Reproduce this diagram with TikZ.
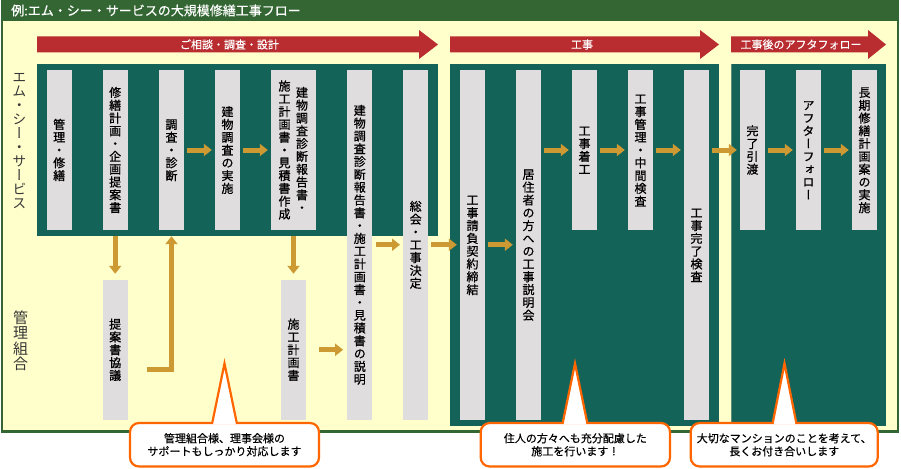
\documentclass[tikz,border=0pt]{standalone}
\usepackage{fontspec}
\usetikzlibrary{arrows.meta}
\newfontfamily\jp[FakeBold=0.4]{Noto Sans CJK JP}
\newfontfamily\jpv[RawFeature=+vert]{Noto Sans CJK JP}
\newfontfamily\jpvb[RawFeature=+vert,FakeBold=0.8]{Noto Sans CJK JP}
\definecolor{titlegreen}{RGB}{51,102,51}
\definecolor{cream}{RGB}{255,255,204}
\definecolor{tealc}{RGB}{19,99,89}
\definecolor{tealline}{RGB}{95,140,120}
\definecolor{boxgray}{RGB}{224,221,222}
\definecolor{goldc}{RGB}{204,153,51}
\definecolor{redc}{RGB}{185,45,48}
\definecolor{orangec}{RGB}{255,102,0}
\definecolor{labelgray}{RGB}{55,55,55}
\ExplSyntaxOn
\NewDocumentCommand \vt { O{0.8pt} m }
  {
    \vbox:n
      {
        \offinterlineskip
        \tl_map_inline:nn {#2}
          {
            \hbox_to_wd:nn {1em} { \hss \vrule height 0.88em depth 0.12em width 0pt ##1 \hss }
            \kern #1
          }
        \unkern
      }
  }
\ExplSyntaxOff
\begin{document}
\begin{tikzpicture}[x=1pt,y=-1pt,
  panel/.style={fill=tealc, inner sep=0pt, draw=none},
  gbox/.style={fill=boxgray, inner sep=0pt, minimum width=25pt, text=black,
    font=\jpvb\fontsize{12}{12}\selectfont},
  shortbox/.style={gbox, minimum height=160pt},
  tallbox/.style={gbox, minimum height=349.5pt},
  lowbox/.style={gbox, minimum height=139.5pt},
  garrow/.style={draw=goldc, line width=5pt, -{Triangle[length=8pt,width=12pt]},
    shorten <=3pt, shorten >=3pt},
  redarrow/.style={fill=redc},
  redlabel/.style={text=white, font=\jp\fontsize{11}{11}\selectfont, inner sep=0pt},
  sidelabel/.style={text=labelgray, inner sep=0pt},
  callout/.style={draw=orangec, line width=2.2pt, fill=white, rounded corners=9pt,
    minimum height=43.5pt, inner sep=0pt, align=center, text=black,
    font=\jp\fontsize{11}{13}\selectfont},
  pointer/.style={draw=orangec, line width=2.2pt, line join=miter}
]
\useasboundingbox (0,0) rectangle (901,468);
% frame
\fill[titlegreen] (0.8,0) rectangle (899,432.8);
\fill[cream] (2.8,21) rectangle (896.8,430.2);
\node[anchor=west, text=white, inner sep=0pt, font=\jp\fontsize{13}{13}\selectfont] (title) at (11,10.5)
  {例:エム・シー・サービスの大規模修繕工事フロー};

% red phase arrows
\fill[redarrow] (37,36.5) -- (419,36.5) -- (419,30) -- (438,44.5) -- (419,59) -- (419,52.5) -- (37,52.5) -- cycle;
\fill[redarrow] (450,36.5) -- (700,36.5) -- (700,30) -- (719,44.5) -- (700,59) -- (700,52.5) -- (450,52.5) -- cycle;
\fill[redarrow] (731,36.5) -- (868,36.5) -- (868,30) -- (886,44.5) -- (868,59) -- (868,52.5) -- (731,52.5) -- cycle;
\node[redlabel] (ph1) at (229.5,44.5) {ご相談・調査・設計};
\node[redlabel] (ph2) at (582,44.5) {工事};
\node[redlabel] (ph3) at (801,44.5) {工事後のアフタフォロー};

% side labels
\node[sidelabel, font=\jpv\fontsize{14}{14}\selectfont] (lab1) at (19.5,140.5) {\vt[0pt]{エム・シー・サービス}};
\node[sidelabel, font=\jpv\fontsize{15}{15}\selectfont] (lab2) at (20.5,341) {\vt[0.5pt]{管理組合}};

% panels
\node[panel, minimum width=401pt, minimum height=172pt] (p1) at (237.5,150) {};
\node[panel, minimum width=269pt, minimum height=361.5pt] (p2) at (584.5,244.75) {};
\node[panel, minimum width=155pt, minimum height=361.5pt] (p3) at (808.5,244.75) {};
\draw[tealline, line width=1pt] (p3.north west) ++(0.5,0) -- ([xshift=0.5pt]p3.south west);

% boxes: first phase
\node[shortbox] (b1) at (59.2,150) {\vt{管理・修繕}};
\node[shortbox] (b2) at (115.2,150) {\vt{修繕計画・企画提案書}};
\node[shortbox] (b3) at (171.5,150) {\vt{調査・診断}};
\node[shortbox] (b4) at (227.5,150) {\vt{建物調査の実施}};
\node[shortbox, minimum width=45pt] (b5) at (293.5,150) {};
\node[text=black, inner sep=0pt, font=\jpvb\fontsize{12}{12}\selectfont] (b5r) at (302,150) {\vt{建物調査診断報告書・}};
\node[text=black, inner sep=0pt, font=\jpvb\fontsize{12}{12}\selectfont] (b5l) at (284.5,150) {\vt{施工計画書・見積書作成}};
\node[tallbox] (b6) at (359.8,244.75) {\vt{建物調査診断報告書・施工計画書・見積書の説明}};
\node[tallbox] (b7) at (415.7,244.75) {\vt{総会・工事決定}};
\node[lowbox] (c1) at (115.2,349.75) {\vt{提案書協議}};
\node[lowbox] (c2) at (293.5,349.75) {\vt{施工計画書}};

% boxes: construction
\node[tallbox] (pa) at (472.5,244.75) {\vt{工事請負契約締結}};
\node[tallbox] (pb) at (528.5,244.75) {\vt{居住者の方への工事説明会}};
\node[shortbox] (pc) at (584.5,150) {\vt{工事着工}};
\node[shortbox] (pd) at (640.5,150) {\vt{工事管理・中間検査}};
\node[tallbox] (pe) at (696.5,244.75) {\vt{工事完了検査}};

% boxes: after-follow
\node[shortbox] (f1) at (752.5,150) {\vt{完了引渡}};
\node[shortbox] (f2) at (808.5,150) {\vt{アフターフォロー}};
\node[shortbox] (f3) at (864.5,150) {\vt{長期修繕計画案の実施}};

% gold arrows
\draw[garrow] (b3) -- (b4);
\draw[garrow] (b4) -- (b5);
\draw[garrow, shorten <=0pt, shorten >=6pt] (b2.center |- p1.south) -- (c1.north);
\draw[garrow, shorten <=0pt, shorten >=6pt] (b5.center |- p1.south) -- (c2.north);
\draw[garrow, shorten <=0pt, shorten >=0pt] ([shift={(19.3,19.25)}]c1.east) -| (b3.center |- p1.south);
\draw[garrow, shorten <=13pt, shorten >=4pt] (c2.east) -- (c2.east -| b6.west);
\draw[garrow] (b6) -- (b7);
\draw[garrow] (b7) -- (pa);
\draw[garrow] (pa) -- (pb);
\draw[garrow] (pb.east |- pc.west) -- (pc.west);
\draw[garrow] (pc) -- (pd);
\draw[garrow] (pd.east) -- (pd.east -| pe.west);
\draw[garrow] (pe.east |- f1.west) -- (f1.west);
\draw[garrow] (f1) -- (f2);
\draw[garrow] (f2) -- (f3);

% callouts
\node[callout, minimum width=189pt] (co1) at (224.5,444.75) {管理組合様、理事会様の\\サポートもしっかり対応します};
\node[callout, minimum width=189.3pt] (co2) at (575.35,444.75) {住人の方々へも充分配慮した\\施工を行います！};
\node[callout, minimum width=187pt] (co3) at (784.2,444.75) {大切なマンションのことを考えて、\\長くお付き合いします};
\coordinate (t1) at (224.5,363.5);
\coordinate (t2) at (575,363.5);
\coordinate (t3) at (784.5,363.5);
\fill[white] (212,424.3) -- (t1) -- (237,424.3) -- cycle;
\draw[pointer] (212,424) -- (t1) -- (237,424);
\fill[white] (562.5,424.3) -- (t2) -- (587.5,424.3) -- cycle;
\draw[pointer] (562.5,424) -- (t2) -- (587.5,424);
\fill[white] (772.5,424.3) -- (t3) -- (796.5,424.3) -- cycle;
\draw[pointer] (772.5,424) -- (t3) -- (796.5,424);
\end{tikzpicture}
\end{document}
